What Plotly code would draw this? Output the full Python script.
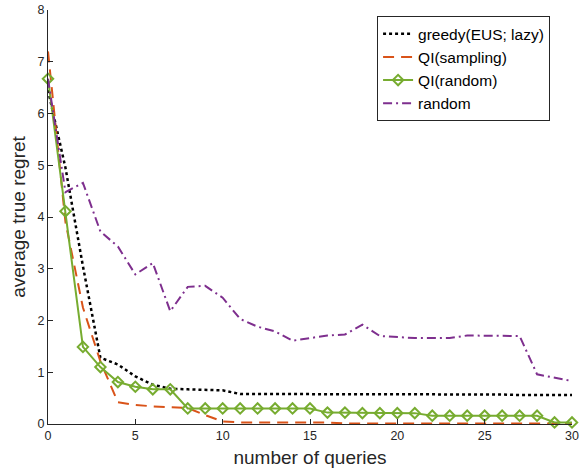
import plotly.graph_objects as go

queries = list(range(31))

greedy_eus_lazy = [6.45, 4.95, 3.05, 1.28, 1.15, 0.92, 0.76, 0.68, 0.67, 0.66, 0.65,
                   0.58, 0.58, 0.58, 0.58, 0.58, 0.58, 0.58, 0.58, 0.58, 0.58,
                   0.57, 0.57, 0.57, 0.57, 0.57, 0.57, 0.56, 0.56, 0.56, 0.56]
qi_sampling = [7.2, 3.9, 2.25, 1.21, 0.42, 0.37, 0.34, 0.33, 0.31, 0.17, 0.05,
               0.03, 0.03, 0.03, 0.03, 0.03, 0.03, 0.01, 0.01, 0.01, 0.01,
               0.01, 0.01, 0.01, 0.01, 0.01, 0.01, 0.01, 0.01, 0.02, 0.01]
qi_random = [6.67, 4.11, 1.49, 1.10, 0.81, 0.72, 0.67, 0.67, 0.30, 0.30, 0.30,
             0.30, 0.30, 0.30, 0.30, 0.30, 0.22, 0.22, 0.21, 0.21, 0.21,
             0.21, 0.16, 0.16, 0.16, 0.16, 0.16, 0.16, 0.16, 0.03, 0.03]
random_q = [6.67, 4.48, 4.66, 3.72, 3.43, 2.89, 3.11, 2.18, 2.65, 2.67, 2.44,
            2.03, 1.88, 1.79, 1.61, 1.66, 1.71, 1.73, 1.92, 1.70, 1.68,
            1.66, 1.66, 1.66, 1.71, 1.71, 1.71, 1.70, 0.96, 0.89, 0.83]

fig = go.Figure()
fig.add_trace(go.Scatter(x=queries, y=greedy_eus_lazy, mode="lines", name="greedy(EUS; lazy)",
                         line=dict(color="black", width=2.5, dash="dot")))
fig.add_trace(go.Scatter(x=queries, y=qi_sampling, mode="lines", name="QI(sampling)",
                         line=dict(color="#D95319", width=2, dash="11px,7px")))
fig.add_trace(go.Scatter(x=queries, y=qi_random, mode="lines+markers", name="QI(random)",
                         line=dict(color="#77AC30", width=2),
                         marker=dict(symbol="diamond-open", size=8, color="#77AC30",
                                     line=dict(width=2, color="#77AC30")),
                         cliponaxis=False))
fig.add_trace(go.Scatter(x=queries, y=random_q, mode="lines", name="random",
                         line=dict(color="#7E2F8E", width=2, dash="9px,4px,2px,4px")))

axis_col = "#262626"
fig.update_layout(
    width=584, height=470,
    margin=dict(l=48, r=12, t=10, b=45.5),
    paper_bgcolor="white", plot_bgcolor="white",
    font=dict(family="Liberation Sans, Arial, sans-serif", color=axis_col, size=12),
    showlegend=True,
    legend=dict(x=0.628, y=0.985, xanchor="left", yanchor="top",
                bordercolor=axis_col, borderwidth=1, bgcolor="white",
                font=dict(size=15.5, color="black"), itemwidth=30,
                tracegroupgap=0),
    xaxis=dict(range=[0, 30], dtick=5, ticks="inside", ticklen=5, tickcolor=axis_col,
               showline=True, linecolor=axis_col, linewidth=1, showgrid=False, zeroline=False,
               automargin=False,
               tickfont=dict(size=12.5, color=axis_col),
               title=dict(text="number of queries", font=dict(size=19, color=axis_col), standoff=8)),
    yaxis=dict(range=[0, 8], dtick=1, ticks="inside", ticklen=5, tickcolor=axis_col,
               showline=True, linecolor=axis_col, linewidth=1, showgrid=False, zeroline=False,
               automargin=False,
               tickfont=dict(size=12.5, color=axis_col),
               title=dict(text="average true regret", font=dict(size=19, color=axis_col), standoff=6)),
)

fig.write_html("out.html")
